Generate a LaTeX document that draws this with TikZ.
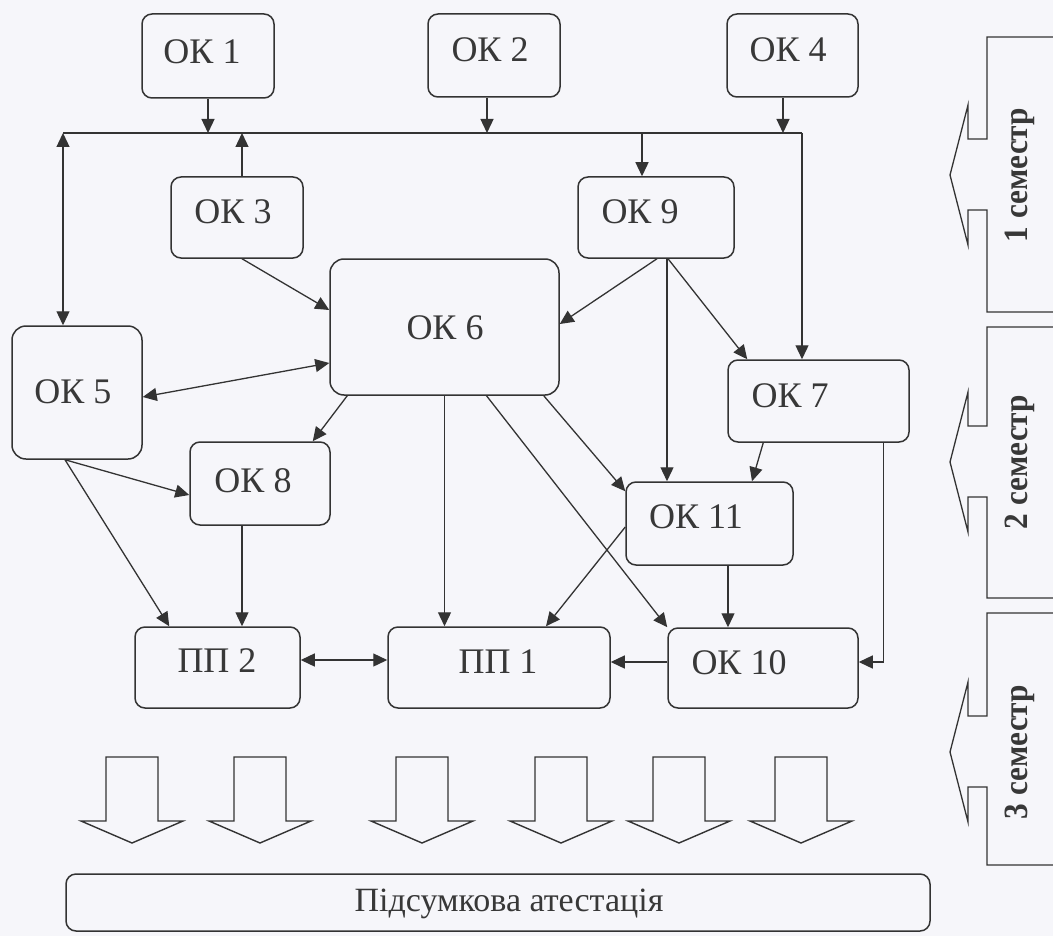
\documentclass[tikz,border=0pt]{standalone}
\usepackage{fontspec}
\usepackage{graphicx}
\setmainfont{Liberation Serif}
\usetikzlibrary{arrows.meta,calc,fit}
\definecolor{bgc}{HTML}{F6F6FA}
\definecolor{lnc}{HTML}{333333}
\definecolor{txc}{HTML}{383838}
\tikzset{
  box/.style={draw=lnc, line width=0.75pt, rounded corners=5pt, inner sep=0pt},
  bigbox/.style={box, rounded corners=7pt},
  lbl/.style={text=txc, font=\fontsize{18pt}{21pt}\selectfont, inner sep=0pt, text height=11.9pt, text depth=0pt},
  finlbl/.style={lbl, font=\fontsize{17pt}{20pt}\selectfont, text height=11.3pt},
  wire/.style={draw=lnc, line width=0.65pt},
  arr/.style={wire, -{Triangle[length=7pt,width=6.5pt]}},
  darr/.style={wire, {Triangle[length=7pt,width=6.5pt]}-{Triangle[length=7pt,width=6.5pt]}},
  semtxt/.style={text=txc, font=\fontsize{17pt}{20pt}\selectfont\bfseries, rotate=90, anchor=base, inner sep=0pt},
  blk/.style={draw=lnc, line width=0.7pt, line join=miter},
}
\begin{document}
\begin{tikzpicture}[x=0.5pt,y=-0.5pt]
\fill[bgc] (0,0) rectangle (1053,936);
\useasboundingbox (0,0) rectangle (1053,936);

% boxes
\node[box, fit={(142,14)(274,98)}] (ok1) {};
\node[box, fit={(428,14)(560,97)}] (ok2) {};
\node[box, fit={(727,14)(858,97)}] (ok4) {};
\node[box, fit={(171,177)(303,258)}] (ok3) {};
\node[box, fit={(578,177)(734,258)}] (ok9) {};
\node[bigbox, fit={(330,259)(559,395)}] (ok6) {};
\node[bigbox, fit={(12,326)(142,459)}] (ok5) {};
\node[box, fit={(728,360)(909,442)}] (ok7) {};
\node[box, fit={(190,442)(330,525)}] (ok8) {};
\node[box, fit={(626,482)(793,565)}] (ok11) {};
\node[box, fit={(135,627)(300,708)}] (pp2) {};
\node[box, fit={(388,627)(610,708)}] (pp1) {};
\node[box, fit={(668,628)(858,708)}] (ok10) {};
\node[box, fit={(66,874)(930,931)}] (fin) {};

% labels
\node[lbl] (ok1t) at (202,52) {ОК 1};
\node[lbl] (ok2t) at (490,50) {ОК 2};
\node[lbl] (ok4t) at (788,50) {ОК 4};
\node[lbl] (ok3t) at (233,212) {ОК 3};
\node[lbl] (ok9t) at (640,212) {ОК 9};
\node[lbl] (ok6t) at (445,328) {ОК 6};
\node[lbl] (ok5t) at (73,392) {ОК 5};
\node[lbl] (ok7t) at (790,396) {ОК 7};
\node[lbl] (ok8t) at (253,481) {ОК 8};
\node[lbl] (ok11t) at (696,517) {ОК 11};
\node[lbl] (pp2t) at (217,661) {ПП 2};
\node[lbl] (pp1t) at (498,662) {ПП 1};
\node[lbl] (ok10t) at (739,663) {ОК 10};
\node[finlbl] (fint) at (509,900) {Підсумкова атестація};

% bus
\coordinate (busL) at (63,133);
\coordinate (busR) at (802,133);
\draw[wire] (busL) -- (busR);
\draw[arr] (ok1.south) -- (ok1.south |- busL);
\coordinate (o2) at ($(ok2.south)+(-7,0)$);
\draw[arr] (o2) -- (o2 |- busL);
\coordinate (o4) at ($(ok4.south)+(-9.5,0)$);
\draw[arr] (o4) -- (o4 |- busL);
\coordinate (o3) at ($(ok3.north)+(5,0)$);
\draw[arr] (o3) -- (o3 |- busL);
\coordinate (o5) at ($(ok5.north)+(-14,0)$);
\draw[darr] (busL) -- (o5);
\coordinate (o9) at ($(ok9.north)+(-14,0)$);
\draw[arr] (o9 |- busL) -- (o9);
\draw[arr] (busR) -- (busR |- ok7.north);

% connectors
\draw[arr] ($(ok3.south)+(5,0)$) -- ($(ok6.west)+(0,-17)$);
\draw[darr] ($(ok5.east)+(0,4.5)$) -- ($(ok6.west)+(0,36)$);
\draw[arr] ($(ok6.south west)+(18,0)$) -- ($(ok8.north east)+(-18,0)$);
\draw[arr] ($(ok9.south)+(1,0)$) -- ($(ok6.east)+(0,-3)$);
\draw[arr] ($(ok9.south)+(12,0)$) -- ($(ok7.north west)+(20,0)$);
\coordinate (o9b) at ($(ok9.south)+(11,0)$);
\draw[arr] (o9b) -- (o9b |- ok11.north);
\draw[arr] ($(ok7.south west)+(36,0)$) -- ($(ok11.north)+(42.5,0)$);
\draw[arr] ($(ok7.south east)+(-26,0)$) |- ($(ok10.east)+(0,-6)$);
\draw[arr] (ok6.south) -- (ok6.south |- pp1.north);
\draw[arr] ($(ok6.south)+(42,0)$) -- (ok10.north west);
\draw[arr] ($(ok6.south east)+(-16,0)$) -- ($(ok11.north west)+(0,10)$);
\draw[arr] ($(ok5.south)+(-12,0)$) -- ($(ok8.west)+(0,11.5)$);
\draw[arr] ($(ok5.south)+(-12,0)$) -- ($(pp2.north west)+(35,0)$);
\coordinate (o8) at ($(ok8.south)+(-18,0)$);
\draw[arr] (o8) -- (o8 |- pp2.north);
\draw[arr] ($(ok11.west)+(0,3.5)$) -- ($(pp1.north)+(47,0)$);
\coordinate (o11) at ($(ok11.south)+(18.5,0)$);
\draw[arr] (o11) -- (o11 |- ok10.north);
\draw[darr] ($(pp2.east)+(0,-7.5)$) -- ($(pp1.west)+(0,-7.5)$);
\coordinate (o10) at ($(ok10.west)+(0,-6)$);
\draw[arr] (o10) -- (o10 -| pp1.east);

% block arrows
\foreach \c in {132,260,422,561,679,801}
  \draw[blk] (\c-26,757) -- (\c+26,757) -- (\c+26,821) -- (\c+51,821) -- (\c,843) -- (\c-51,821) -- (\c-26,821) -- cycle;

% semester brackets
\foreach \t/\b/\m in {37/312/175, 327/598/462, 613/865/752}
  \draw[wire] (1053,\t) -- (987,\t) -- (987,\m-36) -- (968,\m-36) -- (968,\m-70) -- (950,\m) -- (968,\m+70) -- (968,\m+35) -- (987,\m+35) -- (987,\b) -- (1053,\b);
\node[semtxt] (s1) at (1027,175) {\scalebox{0.92}[1]{1 семестр}};
\node[semtxt] (s2) at (1027,462) {\scalebox{0.92}[1]{2 семестр}};
\node[semtxt] (s3) at (1027,752) {\scalebox{0.92}[1]{3 семестр}};
\end{tikzpicture}
\end{document}
